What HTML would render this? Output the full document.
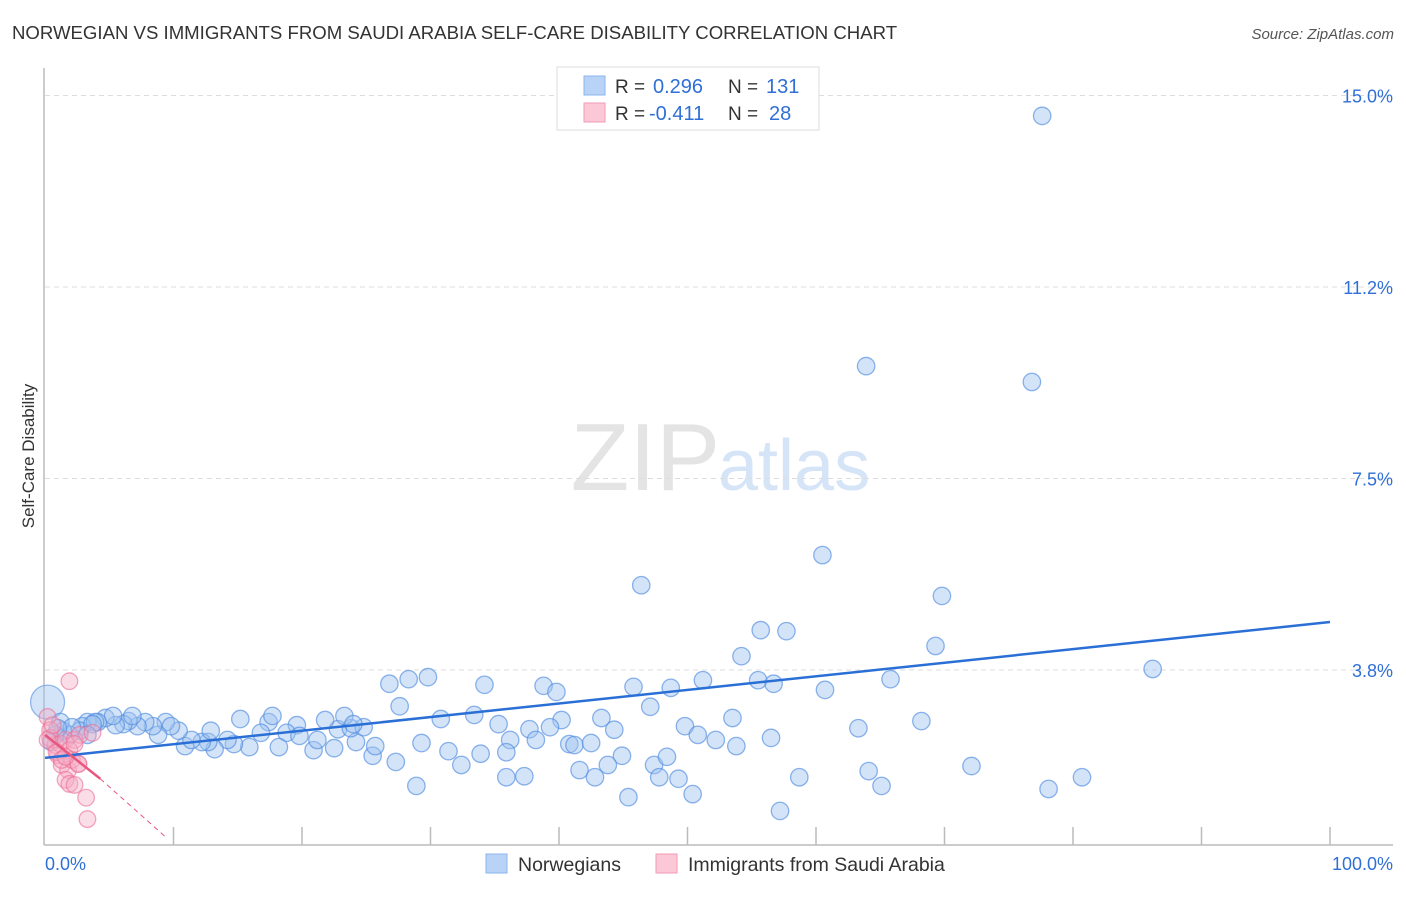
<!DOCTYPE html>
<html><head><meta charset="utf-8">
<style>
body{margin:0;background:#fff;font-family:"Liberation Sans",sans-serif;}
svg text{font-family:"Liberation Sans",sans-serif;}
</style></head>
<body>
<svg id="chart" width="1406" height="892" xmlns="http://www.w3.org/2000/svg">
<text x="12" y="39" font-size="18.6" fill="#333">NORWEGIAN VS IMMIGRANTS FROM SAUDI ARABIA SELF-CARE DISABILITY CORRELATION CHART</text>
<text x="1394" y="39" font-size="15" fill="#555" text-anchor="end" font-style="italic">Source: ZipAtlas.com</text>
<text x="720" y="490" font-size="96" fill="#e4e4e4" text-anchor="end" font-family="Liberation Serif">ZIP</text>
<text x="718" y="490" font-size="72" fill="#d6e4f7">atlas</text>
<text transform="translate(34,456) rotate(-90)" font-size="17" fill="#333" text-anchor="middle">Self-Care Disability</text>
<g id="grid"></g>
<g id="axes"></g>
<g id="marks"></g>
<g>
<rect x="557" y="67" width="262" height="63" fill="#fff" stroke="#ddd"/>
<rect x="584" y="76" width="21" height="19" fill="#b8d3f5" stroke="#8ab4ec"/>
<rect x="584" y="103" width="21" height="19" fill="#fac8d6" stroke="#f29ab4"/>
<text x="615" y="93" font-size="19" fill="#333">R = </text>
<text x="653" y="93" font-size="20" fill="#2f6fd6">0.296</text>
<text x="728" y="93" font-size="19" fill="#333">N = </text>
<text x="766" y="93" font-size="20" fill="#2f6fd6">131</text>
<text x="615" y="120" font-size="19" fill="#333">R = </text>
<text x="649" y="120" font-size="20" fill="#2f6fd6">-0.411</text>
<text x="728" y="120" font-size="19" fill="#333">N = </text>
<text x="769" y="120" font-size="20" fill="#2f6fd6">28</text>
</g>
<g>
<rect x="486" y="854" width="21" height="19" fill="#b8d3f5" stroke="#8ab4ec"/>
<text x="518" y="871" font-size="19.5" fill="#333">Norwegians</text>
<rect x="656" y="854" width="21" height="19" fill="#fac8d6" stroke="#f29ab4"/>
<text x="688" y="871" font-size="19.5" fill="#333">Immigrants from Saudi Arabia</text>
</g>
</svg>
<script>
const yTicks=[3.75,7.5,11.25,15];
const yTickLabels=["3.8%","7.5%","11.2%","15.0%"];
const xTickLabels=["0.0%","100.0%"];
const blueX=[77.6,63.9,76.8,60.5,46.4,69.8,55.7,57.7,69.3,54.2,86.2,55.5,56.7,45.8,48.7,60.7,65.8,51.2,28.3,26.8,29.8,34.2,38.8,39.8,27.6,47.1,68.2,63.3,53.5,43.3,40.2,44.3,30.8,33.4,35.3,37.7,39.3,49.8,50.8,52.2,53.8,56.5,36.2,38.2,40.8,41.2,42.5,44.9,47.4,48.4,29.3,31.4,32.4,35.9,33.9,41.6,43.8,42.8,35.9,37.3,47.8,49.3,50.4,45.4,28.9,58.7,64.1,65.1,72.1,78.1,80.7,57.2,27.3,25.5,24.2,25.7,22.5,20.9,21.2,22.8,23.8,24.8,23.3,21.8,19.6,18.8,19.8,17.4,17.7,16.8,15.9,14.7,14.2,13.2,12.7,12.2,10.9,11.4,12.9,10.4,9.4,9.8,8.8,8.4,7.8,7.2,6.5,6.1,5.5,4.7,5.3,4.1,3.3,2.9,2.7,1.9,1.4,1.2,0.8,0.5,3.9,3.7,2.1,3.3,1.0,6.8,15.2,18.2,24.0];
const blueY=[14.60,9.70,9.39,6.00,5.41,5.20,4.53,4.51,4.22,4.02,3.77,3.55,3.48,3.42,3.40,3.36,3.57,3.55,3.57,3.48,3.61,3.46,3.44,3.32,3.04,3.03,2.75,2.61,2.81,2.81,2.77,2.58,2.79,2.87,2.69,2.59,2.63,2.65,2.48,2.38,2.26,2.42,2.38,2.38,2.30,2.28,2.32,2.07,1.89,2.05,2.32,2.16,1.89,2.14,2.11,1.79,1.89,1.65,1.65,1.67,1.65,1.62,1.32,1.26,1.48,1.65,1.77,1.48,1.87,1.42,1.65,0.99,1.95,2.07,2.34,2.26,2.22,2.18,2.38,2.59,2.61,2.63,2.85,2.77,2.67,2.52,2.46,2.73,2.85,2.52,2.24,2.30,2.38,2.20,2.34,2.34,2.26,2.38,2.56,2.56,2.73,2.65,2.48,2.65,2.73,2.65,2.75,2.69,2.67,2.81,2.85,2.73,2.73,2.65,2.56,2.48,2.56,2.73,2.48,2.34,2.73,2.69,2.63,2.48,2.61,2.85,2.79,2.24,2.69];
const pinkX=[1.9,0.2,0.4,0.8,0.4,1.2,1.6,2.3,2.7,1.9,1.0,1.3,1.8,2.1,2.6,1.6,1.9,2.3,3.2,3.3,3.7,0.6,0.2,0.9,1.3,2.6,2.3,1.6];
const pinkY=[3.53,2.83,2.57,2.28,2.42,2.30,2.38,2.38,2.48,2.18,2.08,1.89,1.79,1.99,1.91,1.60,1.52,1.50,1.25,0.83,2.52,2.67,2.38,2.14,1.99,1.91,2.30,2.05];
const bigBlue={x:0.2,y:3.12};
const blueTrend=[0,2.03,100,4.69];
const pinkTrend=[0,2.48,4.3,1.62,9.3,0.5];

const NS="http://www.w3.org/2000/svg";
const X=v=>45+v*12.85;
const Y=v=>861.5-v*51.07;
function mk(tag,attrs,parent){const e=document.createElementNS(NS,tag);for(const k in attrs)e.setAttribute(k,attrs[k]);parent.appendChild(e);return e;}
const grid=document.getElementById('grid'),axes=document.getElementById('axes'),marks=document.getElementById('marks');
yTicks.forEach((t,i)=>{
 const l=mk('line',{x1:45,x2:1393,y1:Y(t),y2:Y(t),stroke:'#ddd','stroke-dasharray':'5,4'},grid);
 
 
 const tx=mk('text',{x:1393,y:Y(t)+7,'font-size':18,fill:'#2f6fd6','text-anchor':'end'},axes);
 tx.textContent=yTickLabels[i];
 
 
});
mk('line',{x1:44,x2:44,y1:68,y2:845,stroke:'#bbb','stroke-width':1.5},axes);
mk('line',{x1:44,x2:1393,y1:845,y2:845,stroke:'#bbb','stroke-width':1.5},axes);
for(let i=1;i<=10;i++){
 const t=mk('line',{x1:X(i*10),x2:X(i*10),y1:827,y2:845,stroke:'#bbb','stroke-width':1.5},axes);
 
 
}
const xl0=mk('text',{x:45,y:870,'font-size':18,fill:'#2f6fd6'},axes);xl0.textContent=xTickLabels[0];


const xl1=mk('text',{x:1393,y:870,'font-size':18,fill:'#2f6fd6','text-anchor':'end'},axes);xl1.textContent=xTickLabels[1];



const bb=mk('circle',{cx:X(bigBlue.x),cy:Y(bigBlue.y),r:17,fill:'rgba(160,195,240,0.45)',stroke:'rgba(80,140,225,0.6)','stroke-width':1.3},marks);


blueX.forEach((v,i)=>{
 const c=mk('circle',{cx:X(v),cy:Y(blueY[i]),r:8.7,fill:'rgba(160,195,240,0.45)',stroke:'rgba(80,140,225,0.65)','stroke-width':1.3},marks);
 
 
});
pinkX.forEach((v,i)=>{
 const c=mk('circle',{cx:X(v),cy:Y(pinkY[i]),r:8.3,fill:'rgba(245,170,195,0.4)',stroke:'rgba(235,110,150,0.6)','stroke-width':1.3},marks);
 
 
});
const bt=mk('line',{x1:X(blueTrend[0]),y1:Y(blueTrend[1]),x2:X(blueTrend[2]),y2:Y(blueTrend[3]),stroke:'#2a6fd6','stroke-width':2.5},marks);


const pt=mk('line',{x1:X(pinkTrend[0]),y1:Y(pinkTrend[1]),x2:X(pinkTrend[2]),y2:Y(pinkTrend[3]),stroke:'#e8577f','stroke-width':2.5},marks);


const pd=mk('line',{x1:X(pinkTrend[2]),y1:Y(pinkTrend[3]),x2:X(pinkTrend[4]),y2:Y(pinkTrend[5]),stroke:'#e8577f','stroke-width':1,'stroke-dasharray':'5,4'},marks);


</script>
</body></html>
